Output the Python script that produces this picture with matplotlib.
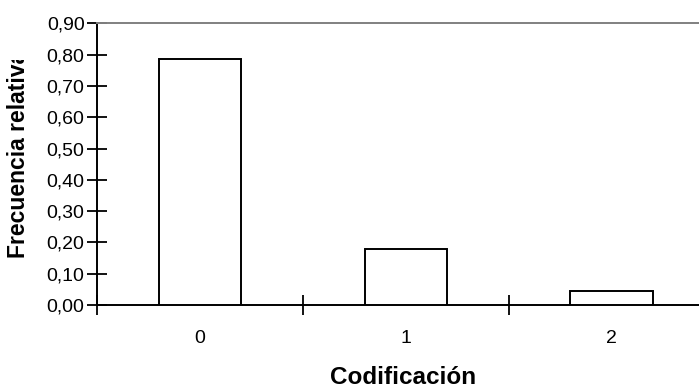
import matplotlib
matplotlib.use("Agg")
import matplotlib.pyplot as plt
from matplotlib.ticker import FixedLocator, NullFormatter, FuncFormatter
from matplotlib.transforms import Bbox

categories = ["0", "1", "2"]
values = [0.786, 0.179, 0.046]
yticks = [0.0, 0.1, 0.2, 0.3, 0.4, 0.5, 0.6, 0.7, 0.8, 0.9]

plt.rcParams['font.family'] = ['Liberation Sans', 'DejaVu Sans']

W, H = 699, 390
fig = plt.figure(figsize=(W / 100, H / 100), dpi=100)
left, right = 97 / W, 714.4 / W
bottom, top = (H - 305) / H, (H - 23.3) / H
ax = fig.add_axes([left, bottom, right - left, top - bottom])

x = list(range(len(categories)))
ax.bar(x, values, width=0.4, color='white', edgecolor='black', linewidth=1.4, zorder=3)

ax.set_xlim(-0.5, len(categories) - 0.5)
ax.set_ylim(0, 0.9)

ax.set_yticks(yticks)
ax.yaxis.set_major_formatter(FuncFormatter(lambda v, p: f"{v:.2f}".replace('.', ',')))
ax.tick_params(axis='y', direction='inout', length=14, width=1.3, labelsize=14, pad=2)

ax.xaxis.set_major_locator(FixedLocator([i - 0.5 for i in range(len(categories) + 1)]))
ax.xaxis.set_major_formatter(NullFormatter())
ax.xaxis.set_minor_locator(FixedLocator(x))
ax.xaxis.set_minor_formatter(FuncFormatter(lambda v, p: categories[int(round(v))]))
ax.tick_params(axis='x', which='major', direction='inout', length=14, width=1.3)
ax.tick_params(axis='x', which='minor', length=0, labelsize=14, pad=18)

for s in ['left', 'bottom']:
    ax.spines[s].set_linewidth(1.4)
ax.spines['top'].set_color('#808080')
ax.spines['top'].set_linewidth(1.4)
ax.spines['right'].set_visible(False)

fig.text(403 / W, (H - 378) / H, "Codificación",
         ha='center', va='center', fontsize=17.5, fontweight='bold')

lab = fig.text(19 / W, (H - 258) / H, "Frecuencia relativa", rotation=90,
               ha='center', va='bottom', fontsize=16.5, fontweight='bold')
lab.set_clip_box(Bbox.from_extents(0, 0, 60, H - 60))

fig.savefig("out.png", dpi=100)
